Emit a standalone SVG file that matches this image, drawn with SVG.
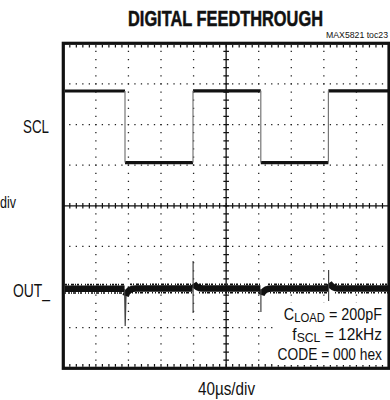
<svg xmlns="http://www.w3.org/2000/svg" width="390" height="400" viewBox="0 0 390 400">
<style>
.t{font-family:"Liberation Sans Narrow","Liberation Sans",Arial,sans-serif;fill:#111}
.g{stroke:#222;stroke-width:1.3;fill:none}
.hd{stroke-dasharray:1.3 5.214}
.vd{stroke-dasharray:1.3 6.825}
.ax{stroke:#111;stroke-width:1.3;fill:none}
.scl{stroke:#111;stroke-width:3.2;fill:none}
.edge{stroke:#777;stroke-width:1.2;fill:none}
.band{stroke:#111;stroke-width:6.5;fill:none}
.fz{stroke:#111;stroke-width:1.6;fill:none}
.spk{stroke:#444;stroke-width:1.2;fill:none}
</style>
<rect width="390" height="400" fill="#fff"/>
<g id="grid">
<g class="g vd">
<line x1="95.87" y1="42.65" x2="95.87" y2="368.3"/>
<line x1="128.44" y1="42.65" x2="128.44" y2="368.3"/>
<line x1="161.01" y1="42.65" x2="161.01" y2="368.3"/>
<line x1="193.58" y1="42.65" x2="193.58" y2="368.3"/>
<line x1="258.72" y1="42.65" x2="258.72" y2="368.3"/>
<line x1="291.29" y1="42.65" x2="291.29" y2="368.3"/>
<line x1="323.86" y1="42.65" x2="323.86" y2="368.3"/>
<line x1="356.43" y1="42.65" x2="356.43" y2="368.3"/>
</g>
<g class="g hd">
<line x1="62.65" y1="83.93" x2="389" y2="83.93"/>
<line x1="62.65" y1="124.55" x2="389" y2="124.55"/>
<line x1="62.65" y1="165.18" x2="389" y2="165.18"/>
<line x1="62.65" y1="246.43" x2="389" y2="246.43"/>
<line x1="62.65" y1="287.05" x2="389" y2="287.05"/>
<line x1="62.65" y1="327.68" x2="389" y2="327.68"/>
</g>
<g id="axes">
<line class="ax" x1="63.3" y1="205.8" x2="389" y2="205.8"/>
<line class="ax" x1="226.15" y1="43.3" x2="226.15" y2="368.3"/>
<line x1="62.7" y1="205.8" x2="389" y2="205.8" stroke="#111" stroke-width="5.6" stroke-dasharray="1.2 5.314"/>
<line x1="226.15" y1="42.7" x2="226.15" y2="368.3" stroke="#111" stroke-width="5.6" stroke-dasharray="1.2 6.925"/>
<line x1="62.7" y1="46.2" x2="389" y2="46.2" stroke="#111" stroke-width="2.6" stroke-dasharray="1.2 5.314"/>
<line x1="62.7" y1="365.4" x2="389" y2="365.4" stroke="#111" stroke-width="2.6" stroke-dasharray="1.2 5.314"/>
</g>
</g>
<rect id="legend-bg" x="276" y="303" width="111" height="62" fill="#fff"/>
<g id="connectors">
<g id="scl-trace">
<path class="scl" d="M65,91 H125 M125,162.6 H193 M193,90.8 H260.8 M260.8,162.6 H328.4 M328.4,90.8 H388"/>
<path class="edge" d="M125,91 V162.6 M193,162.6 V90.8 M260.8,90.8 V162.6 M328.4,162.6 V90.8"/>
</g>
<g id="out-trace">
<path class="band" d="M65,288.8 H124.6 M125.6,296 C127,291 130,288.6 136,288.6 H192.6 M193.6,283.5 C195.5,286.5 198,288.6 203,288.6 H260.4 M261.4,295 C263,290.5 266,288.6 272,288.6 H328 M329,283 C331,286 333,288.6 338,288.6 H388"/>
<path class="fz" stroke-dasharray="2 1 1 2 3 1 1 1 2 2 1 3 1 1 2 1" d="M65,284.6 H124 M130,284.4 H192 M199,284.4 H260 M268,284.4 H328 M335,284.4 H388"/>
<path class="fz" stroke-dasharray="1 2 2 1 1 1 3 2 1 1 2 3 1 2" d="M65,293 H124 M132,292.8 H192 M199,292.8 H260 M270,292.8 H328 M335,292.8 H388"/>
<path class="spk" d="M124.6,289 L125.2,326 L126,296 M193.1,261 V313 M260.9,289 V312 M328.6,270 V301"/>
</g>
</g>
<rect id="frame" x="63.3" y="43.3" width="325.7" height="325" fill="none" stroke="#111" stroke-width="3.2"/>
<g id="labels">
<text class="t" x="225.5" y="25.5" font-size="21.5" font-weight="bold" stroke="#111" stroke-width="0.5" text-anchor="middle" textLength="195" lengthAdjust="spacingAndGlyphs">DIGITAL FEEDTHROUGH</text>
<text class="t" x="388" y="37.5" font-size="8.5" text-anchor="end" textLength="62" lengthAdjust="spacingAndGlyphs">MAX5821 toc23</text>
<text class="t" x="23" y="133" font-size="18" textLength="26" lengthAdjust="spacingAndGlyphs">SCL</text>
<text class="t" x="0" y="207.5" font-size="17" textLength="16" lengthAdjust="spacingAndGlyphs">div</text>
<text class="t" x="13" y="297" font-size="18" textLength="37" lengthAdjust="spacingAndGlyphs">OUT_</text>
<text class="t" x="198" y="395" font-size="17.5" textLength="57" lengthAdjust="spacingAndGlyphs">40µs/div</text>
<g transform="translate(382 319.5) scale(0.87 1)">
<text class="t" x="0" y="0" font-size="16.5" text-anchor="end">C<tspan font-size="13" dy="2.5">LOAD</tspan><tspan dy="-2.5"> = 200pF</tspan></text>
</g>
<g transform="translate(382 339.5) scale(0.94 1)">
<text class="t" x="0" y="0" font-size="16.5" text-anchor="end">f<tspan font-size="13" dy="2.5">SCL</tspan><tspan dy="-2.5"> = 12kHz</tspan></text>
</g>
<g transform="translate(382 359.5) scale(0.835 1)">
<text class="t" x="0" y="0" font-size="16.5" text-anchor="end">CODE = 000 hex</text>
</g>
</g>
</svg>
